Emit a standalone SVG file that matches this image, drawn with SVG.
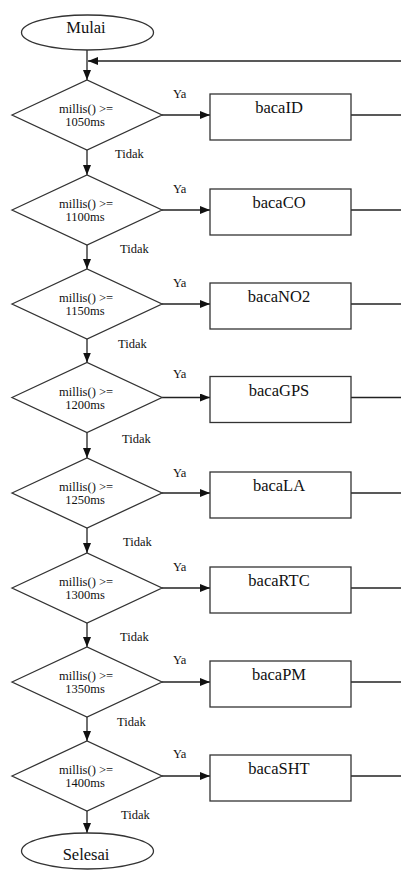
<svg xmlns="http://www.w3.org/2000/svg" width="401" height="871" viewBox="0 0 401 871">
<defs>
<marker id="ah" markerUnits="userSpaceOnUse" markerWidth="10" markerHeight="8" refX="10" refY="4" orient="auto">
<path d="M0,0 L10,4 L0,8 z" fill="#111"/>
</marker>
<style>
.sh{fill:#fff;stroke:#333;stroke-width:1.3}
.ln{fill:none;stroke:#222;stroke-width:1.3}
text{font-family:'Liberation Serif','DejaVu Serif',serif;fill:#111}
.big{font-size:16.5px;text-anchor:middle}
.cond{font-size:12.5px;text-anchor:middle}
.lbl{font-size:12.5px}
</style>
</defs>
<rect width="401" height="871" fill="#fff"/>
<g id="connectors">
<line class="ln" x1="87" y1="50" x2="87" y2="80" marker-end="url(#ah)"/>
<line class="ln" x1="401" y1="61" x2="88" y2="61" marker-end="url(#ah)"/>
<line class="ln" x1="87" y1="150" x2="87" y2="175" marker-end="url(#ah)"/>
<line class="ln" x1="87" y1="245" x2="87" y2="269" marker-end="url(#ah)"/>
<line class="ln" x1="87" y1="339" x2="87" y2="362.5" marker-end="url(#ah)"/>
<line class="ln" x1="87" y1="432.5" x2="87" y2="458" marker-end="url(#ah)"/>
<line class="ln" x1="87" y1="528" x2="87" y2="553" marker-end="url(#ah)"/>
<line class="ln" x1="87" y1="623" x2="87" y2="647" marker-end="url(#ah)"/>
<line class="ln" x1="87" y1="717" x2="87" y2="741" marker-end="url(#ah)"/>
<line class="ln" x1="87" y1="811" x2="87" y2="833" marker-end="url(#ah)"/>
<line class="ln" x1="162" y1="115" x2="210" y2="115" marker-end="url(#ah)"/>
<line class="ln" x1="162" y1="210" x2="210" y2="210" marker-end="url(#ah)"/>
<line class="ln" x1="162" y1="304" x2="210" y2="304" marker-end="url(#ah)"/>
<line class="ln" x1="162" y1="397.5" x2="210" y2="397.5" marker-end="url(#ah)"/>
<line class="ln" x1="162" y1="493" x2="210" y2="493" marker-end="url(#ah)"/>
<line class="ln" x1="162" y1="588" x2="210" y2="588" marker-end="url(#ah)"/>
<line class="ln" x1="162" y1="682" x2="210" y2="682" marker-end="url(#ah)"/>
<line class="ln" x1="162" y1="776" x2="210" y2="776" marker-end="url(#ah)"/>
<line class="ln" x1="351" y1="115" x2="401" y2="115"/>
<line class="ln" x1="351" y1="210" x2="401" y2="210"/>
<line class="ln" x1="351" y1="304" x2="401" y2="304"/>
<line class="ln" x1="351" y1="397.5" x2="401" y2="397.5"/>
<line class="ln" x1="351" y1="493" x2="401" y2="493"/>
<line class="ln" x1="351" y1="588" x2="401" y2="588"/>
<line class="ln" x1="351" y1="682" x2="401" y2="682"/>
<line class="ln" x1="351" y1="776" x2="401" y2="776"/>
<g class="lbl">
<text x="173" y="98">Ya</text>
<text x="173" y="193">Ya</text>
<text x="173" y="287">Ya</text>
<text x="173" y="378">Ya</text>
<text x="173" y="477">Ya</text>
<text x="173" y="571">Ya</text>
<text x="173" y="664">Ya</text>
<text x="173" y="758">Ya</text>
<text x="115" y="158">Tidak</text>
<text x="120" y="253">Tidak</text>
<text x="118" y="348">Tidak</text>
<text x="122" y="443">Tidak</text>
<text x="123" y="546">Tidak</text>
<text x="120" y="641">Tidak</text>
<text x="117" y="726">Tidak</text>
<text x="121" y="819">Tidak</text>
</g>
</g>
<g id="mulai"><ellipse class="sh" cx="87.5" cy="32.5" rx="66" ry="17.5"/><text class="big" x="86" y="33">Mulai</text></g>
<g id="d1050"><polygon class="sh" points="12,115 87,80 162,115 87,150"/><text class="cond" x="86" y="113">millis() &gt;=</text><text class="cond" x="85" y="126">1050ms</text></g>
<g id="d1100"><polygon class="sh" points="12,210 87,175 162,210 87,245"/><text class="cond" x="86" y="208">millis() &gt;=</text><text class="cond" x="85" y="221">1100ms</text></g>
<g id="d1150"><polygon class="sh" points="12,304 87,269 162,304 87,339"/><text class="cond" x="86" y="302">millis() &gt;=</text><text class="cond" x="85" y="315">1150ms</text></g>
<g id="d1200"><polygon class="sh" points="12,397.5 87,362.5 162,397.5 87,432.5"/><text class="cond" x="86" y="395.5">millis() &gt;=</text><text class="cond" x="85" y="408.5">1200ms</text></g>
<g id="d1250"><polygon class="sh" points="12,493 87,458 162,493 87,528"/><text class="cond" x="86" y="491">millis() &gt;=</text><text class="cond" x="85" y="504">1250ms</text></g>
<g id="d1300"><polygon class="sh" points="12,588 87,553 162,588 87,623"/><text class="cond" x="86" y="586">millis() &gt;=</text><text class="cond" x="85" y="599">1300ms</text></g>
<g id="d1350"><polygon class="sh" points="12,682 87,647 162,682 87,717"/><text class="cond" x="86" y="680">millis() &gt;=</text><text class="cond" x="85" y="693">1350ms</text></g>
<g id="d1400"><polygon class="sh" points="12,776 87,741 162,776 87,811"/><text class="cond" x="86" y="774">millis() &gt;=</text><text class="cond" x="85" y="787">1400ms</text></g>
<g id="bacaID"><rect class="sh" x="210" y="94" width="141" height="46"/><text class="big" x="279" y="113">bacaID</text></g>
<g id="bacaCO"><rect class="sh" x="210" y="189" width="141" height="46"/><text class="big" x="279" y="208">bacaCO</text></g>
<g id="bacaNO2"><rect class="sh" x="210" y="283" width="141" height="46"/><text class="big" x="279" y="302">bacaNO2</text></g>
<g id="bacaGPS"><rect class="sh" x="210" y="376.5" width="141" height="46"/><text class="big" x="279" y="395.5">bacaGPS</text></g>
<g id="bacaLA"><rect class="sh" x="210" y="472" width="141" height="46"/><text class="big" x="279" y="491">bacaLA</text></g>
<g id="bacaRTC"><rect class="sh" x="210" y="567" width="141" height="46"/><text class="big" x="279" y="586">bacaRTC</text></g>
<g id="bacaPM"><rect class="sh" x="210" y="661" width="141" height="46"/><text class="big" x="279" y="680">bacaPM</text></g>
<g id="bacaSHT"><rect class="sh" x="210" y="755" width="141" height="46"/><text class="big" x="279" y="774">bacaSHT</text></g>
<g id="selesai"><ellipse class="sh" cx="87.5" cy="851" rx="66" ry="18"/><text class="big" x="86" y="860">Selesai</text></g>
</svg>
